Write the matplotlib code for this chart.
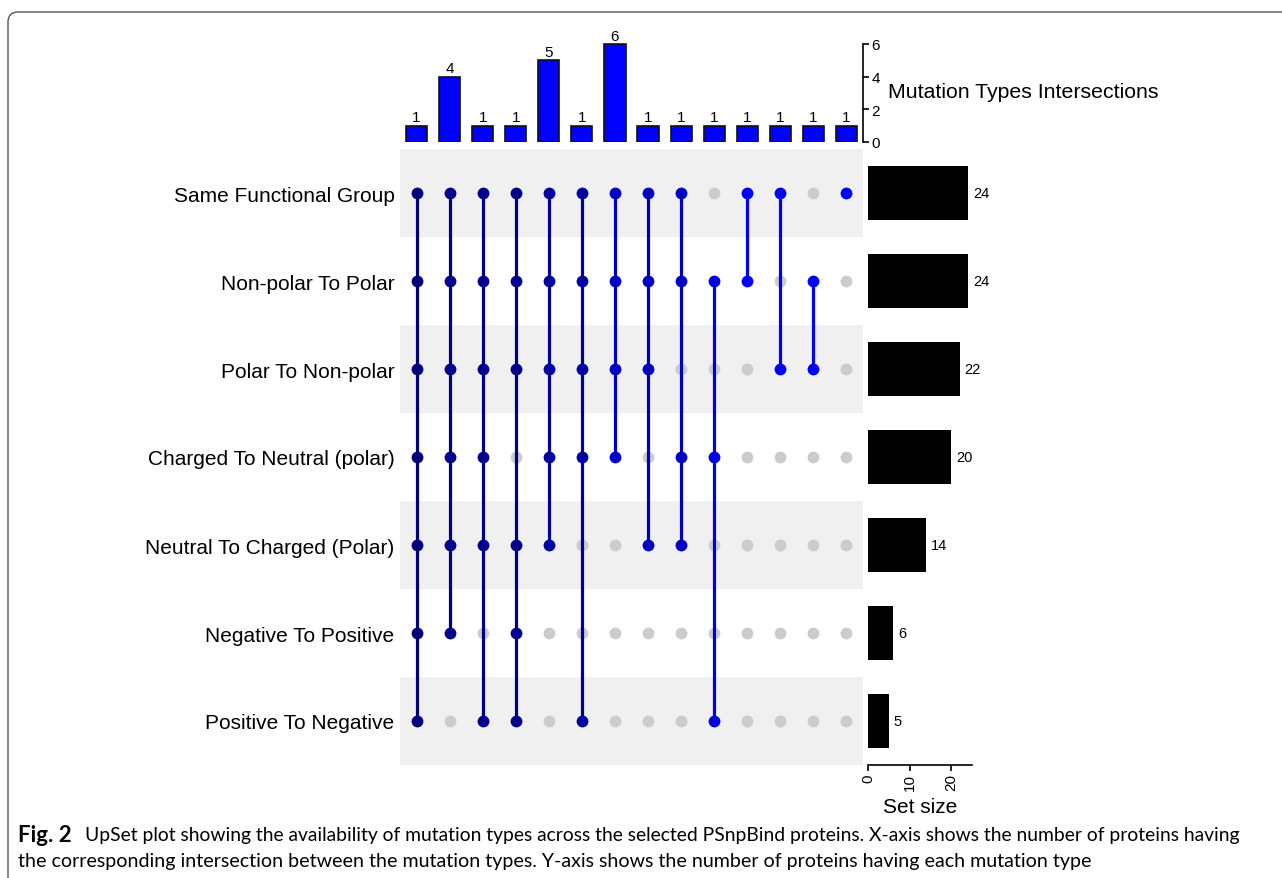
import matplotlib
matplotlib.use("Agg")
import matplotlib.pyplot as plt
from matplotlib.patches import FancyBboxPatch
import numpy as np

# ---- data ----
set_names = [
    "Same Functional Group",
    "Non-polar To Polar",
    "Polar To Non-polar",
    "Charged To Neutral (polar)",
    "Neutral To Charged (Polar)",
    "Negative To Positive",
    "Positive To Negative",
]
set_sizes = [24, 24, 22, 20, 14, 6, 5]

intersection_counts = [1, 4, 1, 1, 5, 1, 6, 1, 1, 1, 1, 1, 1, 1]
# membership: indices into set_names for each intersection column
intersection_members = [
    [0, 1, 2, 3, 4, 5, 6],
    [0, 1, 2, 3, 4, 5],
    [0, 1, 2, 3, 4, 6],
    [0, 1, 2, 4, 5, 6],
    [0, 1, 2, 3, 4],
    [0, 1, 2, 3, 6],
    [0, 1, 2, 3],
    [0, 1, 2, 4],
    [0, 1, 3, 4],
    [1, 3, 6],
    [0, 1],
    [0, 2],
    [1, 2],
    [0],
]
bar_ticks = [0, 2, 4, 6]
size_ticks = [0, 10, 20]

# colour of active dots / connectors by intersection degree
degree_colors = {7: "#00007A", 6: "#00008C", 5: "#0000A0", 4: "#0000C4",
                 3: "#0000E2", 2: "#0000FA", 1: "#0000FF"}

W, H = 1282, 879
plt.rcParams["font.family"] = ["Liberation Sans", "DejaVu Sans"]

fig = plt.figure(figsize=(W / 100, H / 100), dpi=100)


def rect(x0, y0, x1, y1):
    return [x0 / W, 1 - y1 / H, (x1 - x0) / W, (y1 - y0) / H]


n_sets = len(set_names)
n_cols = len(intersection_counts)
cols = np.arange(n_cols)

# ---- intersection size bars ----
ax_bar = fig.add_axes(rect(400, 41.7, 863, 143))
ax_bar.bar(cols, intersection_counts, width=0.64, color="#0000FF",
           edgecolor="#111111", linewidth=1.2)
for x, v in zip(cols, intersection_counts):
    ax_bar.text(x, v + 0.08, str(v), ha="center", va="bottom", fontsize=11)
ax_bar.set_xlim(-0.5, n_cols - 0.5)
ax_bar.set_ylim(0, 6.2)
for s in ["left", "top", "bottom"]:
    ax_bar.spines[s].set_visible(False)
ax_bar.spines["right"].set_bounds(0, 6)
ax_bar.spines["right"].set_linewidth(1.2)
ax_bar.yaxis.tick_right()
ax_bar.set_yticks(bar_ticks)
ax_bar.tick_params(axis="y", length=4, width=1.2, labelsize=11, pad=2)
ax_bar.set_xticks([])
ax_bar.patch.set_alpha(0)
fig.text(888 / W, 1 - 93 / H, "Mutation Types Intersections",
         ha="left", va="center", fontsize=15.3)

# ---- matrix ----
ax_m = fig.add_axes(rect(400, 150, 863, 766))
ax_m.set_xlim(-0.5, n_cols - 0.5)
ax_m.set_ylim(n_sets - 0.5, -0.5)
for r in range(0, n_sets, 2):
    ax_m.axhspan(r - 0.5, r + 0.5, color="#F0F0F0", lw=0, zorder=0)
for c, members in enumerate(intersection_members):
    col = degree_colors[len(members)]
    inactive = [r for r in range(n_sets) if r not in members]
    ax_m.plot([c] * len(inactive), inactive, "o", color="#CCCCCC",
              markersize=8.5, markeredgewidth=0, zorder=2)
    if len(members) > 1:
        ax_m.plot([c, c], [min(members), max(members)], "-", color=col,
                  lw=2.3, zorder=3, solid_capstyle="butt")
    ax_m.plot([c] * len(members), members, "o", color=col,
              markersize=8.5, markeredgewidth=0, zorder=4)
ax_m.set_xticks([])
ax_m.set_yticks(range(n_sets))
ax_m.set_yticklabels(set_names, fontsize=15)
ax_m.tick_params(axis="y", length=0, pad=4)
for s in ax_m.spines.values():
    s.set_visible(False)

# ---- set size bars ----
ax_s = fig.add_axes(rect(868, 150, 972, 766))
ax_s.barh(range(n_sets), set_sizes, height=0.62, color="black")
for r, v in enumerate(set_sizes):
    ax_s.text(v + 1.2, r, str(v), ha="left", va="center", fontsize=10.5)
ax_s.set_xlim(0, 25)
ax_s.set_ylim(n_sets - 0.5, -0.5)
for s in ["left", "top", "right"]:
    ax_s.spines[s].set_visible(False)
ax_s.spines["bottom"].set_bounds(0, 25)
ax_s.spines["bottom"].set_linewidth(1.2)
ax_s.set_yticks([])
ax_s.set_xticks(size_ticks)
ax_s.set_xticklabels([str(t) for t in size_ticks], rotation=90)
ax_s.tick_params(axis="x", length=4, width=1.2, labelsize=11, pad=2)
ax_s.set_xlabel("Set size", fontsize=15, labelpad=5)
ax_s.patch.set_alpha(0)

# ---- frame and caption ----
frame = FancyBboxPatch((0.08, -1.0), 14.0, (879 - 13) / 100 + 1.0,
                       boxstyle="round,pad=0,rounding_size=0.1",
                       transform=fig.dpi_scale_trans, facecolor="none",
                       edgecolor="#555555", linewidth=1.0)
fig.patches.append(frame)

cap_font = ["Lato", "DejaVu Sans"]
fig.text(18 / W, 1 - 836 / H, "Fig. 2", ha="left", va="center",
         fontsize=16, fontweight="bold", family=cap_font)
fig.text(85 / W, 1 - 836 / H,
         "UpSet plot showing the availability of mutation types across the selected "
         "PSnpBind proteins. X-axis shows the number of proteins having",
         ha="left", va="center", fontsize=13.85, family=cap_font)
fig.text(18 / W, 1 - 862 / H,
         "the corresponding intersection between the mutation types. Y-axis shows the "
         "number of proteins having each mutation type",
         ha="left", va="center", fontsize=14.1, family=cap_font)

fig.savefig("out.png", dpi=100)
